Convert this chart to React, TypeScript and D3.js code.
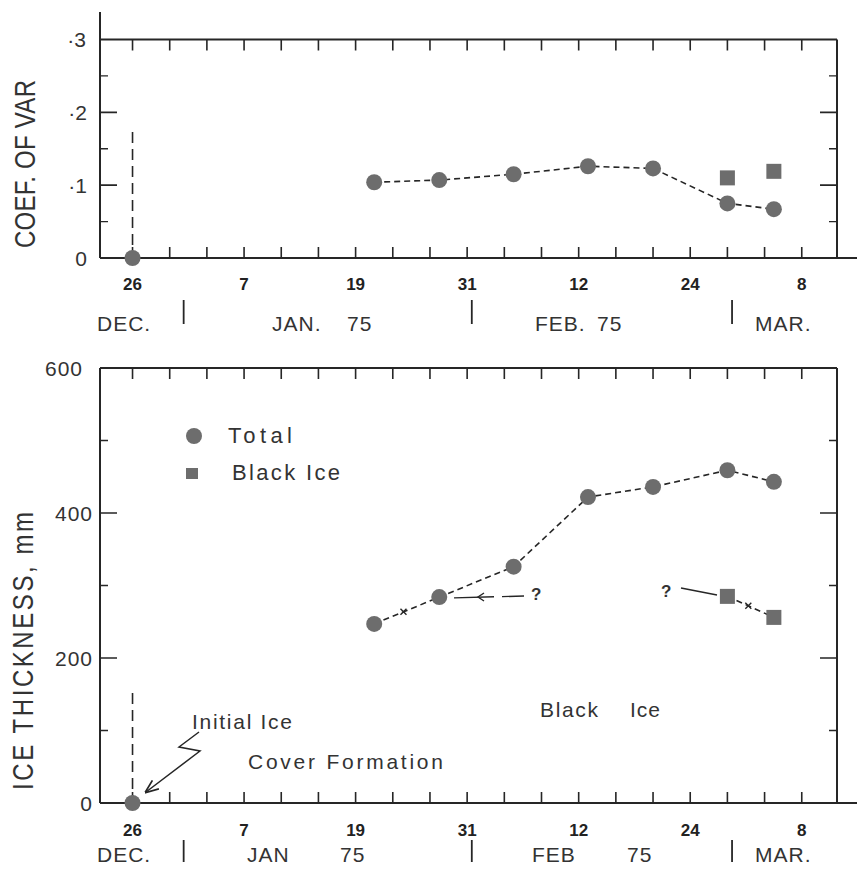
import React, { useEffect, useRef } from "react";
import * as d3 from "d3";

// ---- data (winter 1974-75) ----
const startDate = "1974-12-26"; // initial ice cover formation, value 0
const sampleDates = ["1975-01-21", "1975-01-28", "1975-02-05", "1975-02-13", "1975-02-20", "1975-02-28", "1975-03-05"];
const totalCov = [0.104, 0.107, 0.115, 0.126, 0.123, 0.075, 0.067];
const totalThick = [247, 284, 326, 422, 436, 459, 443];
const blackDates = ["1975-02-28", "1975-03-05"];
const blackCov = [0.11, 0.119];
const blackThick = [285, 256];

const dayLabelDates = ["1974-12-26", "1975-01-07", "1975-01-19", "1975-01-31", "1975-02-12", "1975-02-24", "1975-03-08"];
const dayLabels = ["26", "7", "19", "31", "12", "24", "8"];
const monthStarts = ["1975-01-01", "1975-02-01", "1975-03-01"];

const covTicks = [0, 0.1, 0.2, 0.3];
const covTickText = ["0", "·1", "·2", "·3"];
const covMinor = [0.05, 0.15, 0.25];
const thickTicks = [0, 200, 400, 600];
const thickTickText = ["0", "200", "400", "600"];
const thickMinor = [100, 300, 500];

const W = 857, H = 875;
const ink = "#262626";
const dotFill = "#6d6d6d";
const font = "'Liberation Sans', Arial, Helvetica, sans-serif";

export default function App() {
  const ref = useRef<SVGSVGElement>(null);

  useEffect(() => {
    document.body.style.margin = "0";
    const svg = d3.select(ref.current);
    svg.selectAll("*").remove();

    const parse = d3.utcParse("%Y-%m-%d");
    const t0 = parse(startDate)!;
    const x = d3.scaleUtc()
      .domain([d3.utcHour.offset(t0, -84), d3.utcHour.offset(t0, 1819)])
      .range([100, 837]);
    const xTicks = d3.range(0, 73, 4).map(i => d3.utcDay.offset(t0, i));

    const defs = svg.append("defs");
    defs.append("marker").attr("id", "ah").attr("viewBox", "0 0 10 10").attr("refX", 9).attr("refY", 5)
      .attr("markerWidth", 9).attr("markerHeight", 9).attr("orient", "auto-start-reverse")
      .append("path").attr("d", "M0,1L10,5L0,9").attr("fill", "none").attr("stroke", ink).attr("stroke-width", 1.3);

    const panel = (o: any) => {
      const g = svg.append("g");
      const [yb, yt] = o.y.range();
      const ln = (x1: number, y1: number, x2: number, y2: number, w = 2) =>
        g.append("line").attr("x1", x1).attr("y1", y1).attr("x2", x2).attr("y2", y2)
          .attr("stroke", ink).attr("stroke-width", w);

      // frame
      ln(100, o.leftTop, 100, yb);
      ln(100, yt, 837, yt);
      ln(837, yt, 837, yb);
      ln(100, yb, 857, yb);

      // x ticks, inward on both edges
      g.selectAll(".xt").data(xTicks).join("path")
        .attr("d", d => `M${x(d)},${yb}v-11M${x(d)},${yt}v11`)
        .attr("stroke", ink).attr("stroke-width", 1.6);

      // y ticks
      const [d0, d1] = o.y.domain();
      g.selectAll(".ym").data(o.ticks.filter((v: number) => v > d0 && v < d1)).join("path")
        .attr("d", (v: number) => `M100,${o.y(v)}h17M837,${o.y(v)}h-17`)
        .attr("stroke", ink).attr("stroke-width", 1.6);
      g.selectAll(".yn").data(o.minor).join("path")
        .attr("d", (v: number) => `M100,${o.y(v)}h8M837,${o.y(v)}h-8`)
        .attr("stroke", ink).attr("stroke-width", 1.4);

      g.selectAll(".yl").data(o.ticks).join("text")
        .attr("x", (v: number) => (v === d1 ? o.labelX - o.topShift : o.labelX))
        .attr("y", (v: number) => o.y(v)).attr("dy", "0.36em")
        .attr("text-anchor", "end").attr("font-family", font).attr("font-size", 21)
        .attr("fill", "#333").attr("letter-spacing", o.labelSpacing)
        .text((v: number, i: number) => o.tickText[i]);

      // day labels
      g.selectAll(".xl").data(dayLabelDates.map(s => parse(s)!)).join("text")
        .attr("x", d => x(d)).attr("y", o.dayY).attr("text-anchor", "middle")
        .attr("font-family", font).attr("font-weight", "bold").attr("font-size", 17).attr("fill", "#222")
        .text((d, i) => dayLabels[i]);

      // month separators + names
      g.selectAll(".ms").data(monthStarts.map(s => d3.utcHour.offset(parse(s)!, -12))).join("line")
        .attr("x1", d => x(d)).attr("x2", d => x(d)).attr("y1", o.sepY[0]).attr("y2", o.sepY[1])
        .attr("stroke", ink).attr("stroke-width", 1.8);
      g.selectAll(".mw").data(o.monthWords).join("text")
        .attr("x", (d: any) => d[1]).attr("y", o.monthY)
        .attr("font-family", font).attr("font-size", 21).attr("fill", "#333").attr("letter-spacing", 1)
        .text((d: any) => d[0]);

      // axis title
      g.append("text")
        .attr("transform", `translate(${o.titleX},${o.titleY}) rotate(-90) scale(1,1.2)`)
        .attr("text-anchor", "middle").attr("font-family", font).attr("font-size", 24).attr("fill", "#333")
        .attr("textLength", o.titleLen).attr("lengthAdjust", "spacing")
        .text(o.title);

      // dashed marker of initial cover
      ln(x(t0), o.vTop, x(t0), yb, 1.6).attr("stroke-dasharray", "11 6");

      // total series
      const pts = sampleDates.map((s, i) => [parse(s)!, o.total[i]] as [Date, number]);
      const line = d3.line<[Date, number]>().x(d => x(d[0])).y(d => o.y(d[1]));
      g.append("path").datum(pts).attr("d", line).attr("fill", "none")
        .attr("stroke", ink).attr("stroke-width", 1.6).attr("stroke-dasharray", "6 4");

      const bpts = blackDates.map((s, i) => [parse(s)!, o.black[i]] as [Date, number]);
      if (o.joinBlack) {
        g.append("path").datum(bpts).attr("d", line).attr("fill", "none")
          .attr("stroke", ink).attr("stroke-width", 1.6).attr("stroke-dasharray", "6 4");
      }

      g.selectAll(".pt").data(pts).join("circle")
        .attr("cx", d => x(d[0])).attr("cy", d => o.y(d[1])).attr("r", 8).attr("fill", dotFill);
      g.append("circle").attr("cx", x(t0)).attr("cy", o.y(0)).attr("r", 8).attr("fill", dotFill);
      g.selectAll(".sq").data(bpts).join("rect")
        .attr("x", d => x(d[0]) - 7.5).attr("y", d => o.y(d[1]) - 7.5)
        .attr("width", 15).attr("height", 15).attr("fill", dotFill);

      return { g, pts, bpts };
    };

    // ---- top panel: coefficient of variation ----
    panel({
      y: d3.scaleLinear().domain([0, 0.3]).range([258, 39.5]),
      leftTop: 12, ticks: covTicks, tickText: covTickText, minor: covMinor,
      labelX: 87, labelSpacing: 0, topShift: 1,
      dayY: 290, sepY: [300, 324], monthY: 331,
      monthWords: [["DEC.", 97], ["JAN.", 272], ["75", 347], ["FEB.", 535], ["75", 597], ["MAR.", 755]],
      title: "COEF. OF VAR", titleX: 35, titleY: 164, titleLen: 168,
      vTop: 132, total: totalCov, black: blackCov, joinBlack: false,
    });

    // ---- bottom panel: ice thickness ----
    const yT = d3.scaleLinear().domain([0, 600]).range([803, 368]);
    const bottom = panel({
      y: yT,
      leftTop: 368, ticks: thickTicks, tickText: thickTickText, minor: thickMinor,
      labelX: 93, labelSpacing: 1, topShift: 10,
      dayY: 836, sepY: [840, 862], monthY: 862,
      monthWords: [["DEC.", 97], ["JAN", 247], ["75", 340], ["FEB", 532], ["75", 627], ["MAR.", 755]],
      title: "ICE THICKNESS, mm", titleX: 33, titleY: 651, titleLen: 278,
      vTop: 693, total: totalThick, black: blackThick, joinBlack: true,
    });
    const g = bottom.g;

    // little "x" marks on the dashed joins
    const cross = (cx: number, cy: number) =>
      g.append("path").attr("d", `M${cx - 3},${cy - 3}l6,6M${cx - 3},${cy + 3}l6,-6`)
        .attr("stroke", ink).attr("stroke-width", 1.4);
    const mid = (a: [Date, number], b: [Date, number], t: number) =>
      [x(a[0]) + (x(b[0]) - x(a[0])) * t, yT(a[1]) + (yT(b[1]) - yT(a[1])) * t];
    const m1 = mid(bottom.pts[0], bottom.pts[1], 0.45);
    cross(m1[0], m1[1]);
    const m2 = mid(bottom.bpts[0], bottom.bpts[1], 0.45);
    cross(m2[0], m2[1]);

    // legend
    g.append("circle").attr("cx", 194).attr("cy", 436).attr("r", 8).attr("fill", dotFill);
    g.append("rect").attr("x", 186).attr("y", 468).attr("width", 12).attr("height", 11).attr("fill", dotFill);
    const txt = (s: string, tx: number, ty: number, size = 21, len?: number, weight = "normal") => {
      const t = g.append("text").attr("x", tx).attr("y", ty).attr("font-family", font)
        .attr("font-size", size).attr("font-weight", weight).attr("fill", "#333").text(s);
      if (len) t.attr("textLength", len).attr("lengthAdjust", "spacing");
      return t;
    };
    txt("Total", 228, 443, 22, 64);
    txt("Black Ice", 232, 480, 22, 108);

    // annotations
    txt("Initial Ice", 192, 729, 21, 100);
    txt("Cover Formation", 248, 769, 21, 195);
    txt("Black", 540, 717, 21, 58);
    txt("Ice", 630, 717, 21, 30);
    txt("?", 531, 600, 17, undefined, "bold");
    txt("?", 661, 597, 17, undefined, "bold");

    g.append("path").attr("d", "M524,596L450,598").attr("fill", "none")
      .attr("stroke", ink).attr("stroke-width", 1.4).attr("stroke-dasharray", "22 8 40");
    g.append("path").attr("d", "M484,593L478,597L484,601").attr("fill", "none")
      .attr("stroke", ink).attr("stroke-width", 1.4);
    g.append("path").attr("d", "M681,588L717,595").attr("fill", "none")
      .attr("stroke", ink).attr("stroke-width", 1.4);

    // zig-zag arrow to the initial point
    g.append("path").attr("d", "M199,732L179,747L200,751L146,792").attr("fill", "none")
      .attr("stroke", ink).attr("stroke-width", 1.5).attr("marker-end", "url(#ah)");
  }, []);

  return <svg ref={ref} width={W} height={H} style={{ display: "block", background: "#fff" }} />;
}
